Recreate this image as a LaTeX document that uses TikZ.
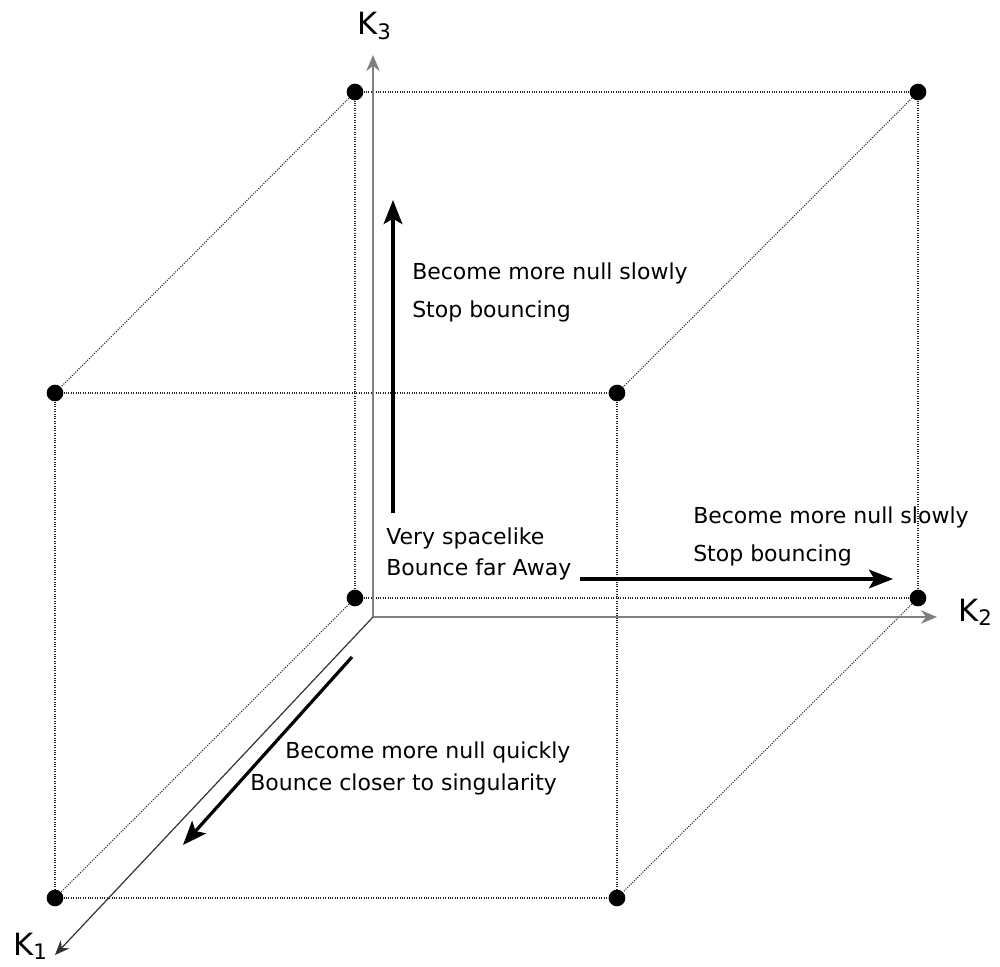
\documentclass[tikz,border=0pt]{standalone}
\usepackage{fontspec}
\setmainfont{DejaVu Sans}
\usetikzlibrary{arrows.meta}

\begin{document}
\begin{tikzpicture}[x=0.75pt, y=-0.75pt,
  main/.style = {circle, fill, inner sep=0pt, minimum size=12.5pt},
  edge/.style = {densely dotted, line width=0.8pt, black!85},
  axis/.style = {line width=1.7pt, black!50, -{Stealth[length=12pt,width=10pt]}},
  move/.style = {line width=2.4pt, -{Stealth[length=18pt,width=14pt,inset=4pt]}},
  txt/.style = {anchor=base west, inner sep=0pt, font=\fontsize{16.5}{20}\selectfont},
  lab/.style = {anchor=base west, inner sep=0pt, font=\fontsize{23}{28}\selectfont}]
\useasboundingbox (0,0) rectangle (1000,967);
\node[main] (1) at (355,92) {};
\node[main] (2) at (918,92) {};
\node[main] (3) at (355,598) {};
\node[main] (4) at (918,598) {};
\node[main] (5) at (55,393) {};
\node[main] (6) at (617,393) {};
\node[main] (7) at (55,898) {};
\node[main] (8) at (617,898) {};
\draw[edge] (1) -- (2);
\draw[edge] (1) -- (3);
\draw[edge] (2) -- (4);
\draw[edge] (3) -- (4);
\draw[edge] (5) -- (6);
\draw[edge] (5) -- (7);
\draw[edge] (6) -- (8);
\draw[edge] (7) -- (8);
\draw[edge] (1) -- (5);
\draw[edge] (2) -- (6);
\draw[edge] (3) -- (7);
\draw[edge] (4) -- (8);
% axes
\coordinate (0) at (373,617);
\coordinate (k1) at (55,955);
\coordinate (k2) at (937,617);
\coordinate (k3) at (373,55);
\draw[axis] (0) -- (k3);
\draw[axis] (0) -- (k2);
\draw[line width=0.9pt, black!80, -{Stealth[length=11pt,width=9pt]}] (0) -- (k1);
\node[lab] (9) at (357,35) {K\raisebox{-3pt}{\fontsize{16}{16}\selectfont 3}};
\node[lab] (10) at (958,621) {K\raisebox{-3pt}{\fontsize{16}{16}\selectfont 2}};
\node[lab] (11) at (13,955) {K\raisebox{-3pt}{\fontsize{16}{16}\selectfont 1}};
% motions
\coordinate (a1) at (393,513);
\coordinate (a2) at (393,200);
\coordinate (b1) at (580,579);
\coordinate (b2) at (893,579);
\coordinate (c1) at (352,657);
\coordinate (c2) at (183,845);
\draw[move] (a1) -- (a2);
\draw[move] (b1) -- (b2);
\draw[move] (c1) -- (c2);
\node[txt] (12) at (412,279) {Become more null slowly};
\node[txt] (13) at (412,317) {Stop bouncing};
\node[txt] (14) at (386,544) {Very spacelike};
\node[txt] (15) at (386,575) {Bounce far Away};
\node[txt] (16) at (693,523) {Become more null slowly};
\node[txt] (17) at (693,561) {Stop bouncing};
\node[txt] (18) at (285,758) {Become more null quickly};
\node[txt] (19) at (250,790) {Bounce closer to singularity};
\end{tikzpicture}
\end{document}
